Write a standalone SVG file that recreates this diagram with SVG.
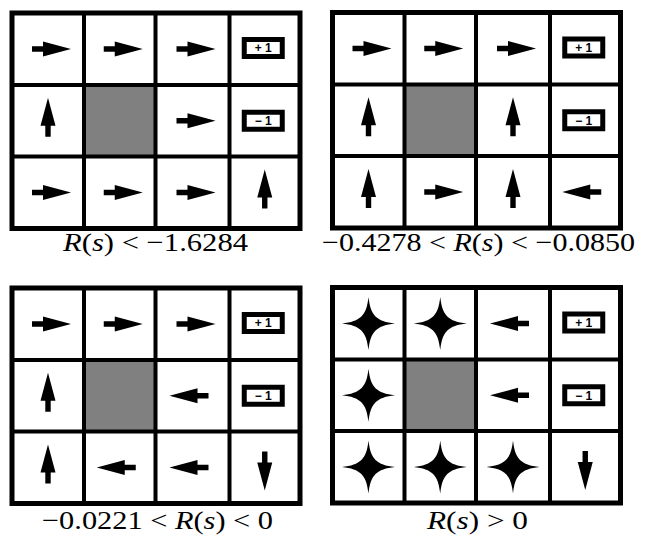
<svg xmlns="http://www.w3.org/2000/svg" xmlns:xlink="http://www.w3.org/1999/xlink" width="651" height="547" viewBox="0 0 651 547">
<style>
.frame{fill:none;stroke:#000;stroke-width:5}
.line{fill:none;stroke:#000;stroke-width:4}
.wall{fill:#808080}
.sym{fill:#000}
.boxr{fill:#fff;stroke:#000;stroke-width:5}
.boxt{font-family:"Liberation Sans",Arial,sans-serif;font-size:12px;font-weight:bold;fill:#000;text-anchor:middle}
.lab{font-family:"Liberation Serif","Times New Roman",serif;font-size:26px;fill:#000}
</style>
<defs>
<path id="arr" class="sym" d="M-16,-2.7 H-5 V-7.5 L23,0 L-5,7.5 V2.7 H-16 Z"/>
<path id="star" class="sym" d="M0,-26.5 C2,-8 8,-2 26.5,0 C8,2 2,8 0,26.5 C-2,8 -8,2 -26.5,0 C-8,-2 -2,-8 0,-26.5 Z"/>
<g id="plus"><rect class="boxr" x="-19" y="-8.5" width="38" height="17"/><text class="boxt" x="0" y="4.3">+ 1</text></g>
<g id="minus"><rect class="boxr" x="-19" y="-8.5" width="38" height="17"/><text class="boxt" x="0" y="4.3">− 1</text></g>
<g id="grid">
<rect x="0" y="0" width="288" height="215.5" fill="#fff"/>
<rect class="wall" x="72" y="72" width="71.5" height="71.5"/>
<path class="line" d="M72,0 V215.5 M143.5,0 V215.5 M217.5,0 V215.5 M0,72 H288 M0,143.5 H288"/>
<rect class="frame" x="0" y="0" width="288" height="215.5"/>
</g>
</defs>

<g id="grid1" transform="translate(12,13)">
<use href="#grid"/>
<use href="#arr" transform="translate(36,36)"/>
<use href="#arr" transform="translate(107.75,36)"/>
<use href="#arr" transform="translate(180.5,36)"/>
<use href="#plus" transform="translate(251.25,35)"/>
<use href="#arr" transform="translate(36,107.75) rotate(-90)"/>
<use href="#arr" transform="translate(180.5,107.75)"/>
<use href="#minus" transform="translate(251.25,107.75)"/>
<use href="#arr" transform="translate(36,179.5)"/>
<use href="#arr" transform="translate(107.75,179.5)"/>
<use href="#arr" transform="translate(180.5,179.5)"/>
<use href="#arr" transform="translate(252.75,179.5) rotate(-90)"/>
</g>

<g id="grid2" transform="translate(332.5,12.5)">
<use href="#grid"/>
<use href="#arr" transform="translate(36,36)"/>
<use href="#arr" transform="translate(107.75,36)"/>
<use href="#arr" transform="translate(180.5,36)"/>
<use href="#plus" transform="translate(251.25,35)"/>
<use href="#arr" transform="translate(36,107.75) rotate(-90)"/>
<use href="#arr" transform="translate(180.5,107.75) rotate(-90)"/>
<use href="#minus" transform="translate(251.25,107.75)"/>
<use href="#arr" transform="translate(36,179.5) rotate(-90)"/>
<use href="#arr" transform="translate(107.75,179.5)"/>
<use href="#arr" transform="translate(180.5,179.5) rotate(-90)"/>
<use href="#arr" transform="translate(252.75,179.5) rotate(180)"/>
</g>

<g id="grid3" transform="translate(12,288)">
<use href="#grid"/>
<use href="#arr" transform="translate(36,36)"/>
<use href="#arr" transform="translate(107.75,36)"/>
<use href="#arr" transform="translate(180.5,36)"/>
<use href="#plus" transform="translate(251.25,35)"/>
<use href="#arr" transform="translate(36,107.75) rotate(-90)"/>
<use href="#arr" transform="translate(180.5,107.75) rotate(180)"/>
<use href="#minus" transform="translate(251.25,107.75)"/>
<use href="#arr" transform="translate(36,179.5) rotate(-90)"/>
<use href="#arr" transform="translate(107.75,179.5) rotate(180)"/>
<use href="#arr" transform="translate(180.5,179.5) rotate(180)"/>
<use href="#arr" transform="translate(252.75,179.5) rotate(90)"/>
</g>

<g id="grid4" transform="translate(332.5,287.5)">
<use href="#grid"/>
<use href="#star" transform="translate(36,36)"/>
<use href="#star" transform="translate(107.75,36)"/>
<use href="#arr" transform="translate(180.5,36) rotate(180)"/>
<use href="#plus" transform="translate(251.25,35)"/>
<use href="#star" transform="translate(36,107.75)"/>
<use href="#arr" transform="translate(180.5,107.75) rotate(180)"/>
<use href="#minus" transform="translate(251.25,107.75)"/>
<use href="#star" transform="translate(36,179.5)"/>
<use href="#star" transform="translate(107.75,179.5)"/>
<use href="#star" transform="translate(180.5,179.5)"/>
<use href="#arr" transform="translate(252.75,179.5) rotate(90)"/>
</g>

<g id="labels">
<text class="lab" x="63" y="251" textLength="185" lengthAdjust="spacingAndGlyphs"><tspan font-style="italic">R</tspan>(<tspan font-style="italic">s</tspan>) &lt; −1.6284</text>
<text class="lab" x="322" y="251" textLength="313" lengthAdjust="spacingAndGlyphs">−0.4278 &lt; <tspan font-style="italic">R</tspan>(<tspan font-style="italic">s</tspan>) &lt; −0.0850</text>
<text class="lab" x="42" y="529" textLength="231" lengthAdjust="spacingAndGlyphs">−0.0221 &lt; <tspan font-style="italic">R</tspan>(<tspan font-style="italic">s</tspan>) &lt; 0</text>
<text class="lab" x="427" y="529" textLength="101" lengthAdjust="spacingAndGlyphs"><tspan font-style="italic">R</tspan>(<tspan font-style="italic">s</tspan>) &gt; 0</text>
</g>
</svg>
